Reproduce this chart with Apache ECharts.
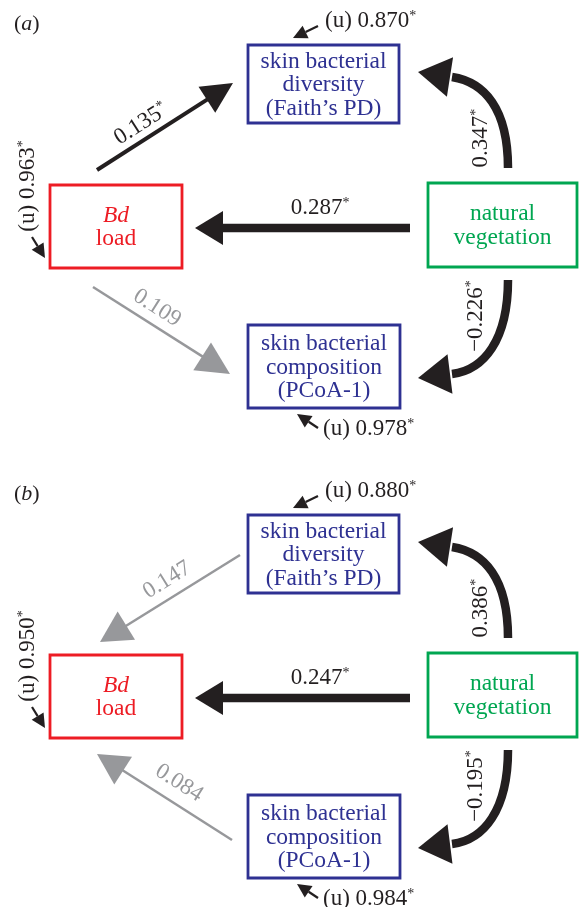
<!DOCTYPE html>
<html>
<head>
<meta charset="utf-8">
<script src="https://cdn.jsdelivr.net/npm/echarts@6/dist/echarts.min.js"></script>
<style>
  html, body { margin: 0; padding: 0; background: #fff; }
  #chart { width: 582px; height: 907px; }
</style>
</head>
<body>
<div id="chart"></div>
<script>
// ---- data ----
const panels = ['a', 'b'];
const nodeKeys = ['bd', 'div', 'comp', 'veg'];
const nodeLines = [
  ['Bd', 'load'],
  ['skin bacterial', 'diversity', '(Faith’s PD)'],
  ['skin bacterial', 'composition', '(PCoA-1)'],
  ['natural', 'vegetation']
];
// path coefficients, panel (a)
const pathsA = ['bd>div', 'veg>bd', 'bd>comp', 'veg>div', 'veg>comp'];
const coefA = [0.135, 0.287, 0.109, 0.347, -0.226];
const sigA = [1, 1, 0, 1, 1];
// path coefficients, panel (b)
const pathsB = ['div>bd', 'veg>bd', 'comp>bd', 'veg>div', 'veg>comp'];
const coefB = [0.147, 0.247, 0.084, 0.386, -0.195];
const sigB = [0, 1, 0, 1, 1];
// unexplained variance (u): bd, div, comp
const residKeys = ['bd', 'div', 'comp'];
const residA = [0.963, 0.870, 0.978];
const residB = [0.950, 0.880, 0.984];

// ---- layout (panel a coordinates, panel b shifted down) ----
const PANEL_DY = 470;
const FONT = '"Liberation Serif", "DejaVu Serif", serif';
const INK = '#231f20';
const GREY = '#97989b';
const boxes = {
  bd:   { x: 50,  y: 185, w: 132, h: 83, color: '#ed1c24' },
  div:  { x: 248, y: 45,  w: 151, h: 78, color: '#2e3192' },
  comp: { x: 248, y: 325, w: 152, h: 83, color: '#2e3192' },
  veg:  { x: 428, y: 183, w: 149, h: 84, color: '#00a651' }
};
const arrows = {
  'bd>div':   { from: [97, 170],  tip: [233, 83],  width: 4,   head: [31, 31], label: [141, 124] },
  'veg>bd':   { from: [410, 228], tip: [195, 228], width: 8.5, head: [28, 34], label: [320, 208] },
  'bd>comp':  { from: [93, 287],  tip: [230, 374], width: 2.5, head: [33, 33], label: [157, 308] },
  'div>bd':   { from: [240, 85],  tip: [100, 172], width: 2.5, head: [31, 33], label: [167, 110] },
  'comp>bd':  { from: [232, 370], tip: [97, 284],  width: 2.5, head: [31, 33], label: [179, 313] },
  'veg>div':  { from: [508, 168], c1: [508, 108], c2: [484, 82],  base: [450, 77],  tip: [418, 72],
                width: 8.5, head: [32, 40], label: [481, 138] },
  'veg>comp': { from: [508, 280], c1: [508, 340], c2: [484, 370], base: [450, 374], tip: [418, 378],
                width: 8.5, head: [32, 40], label: [476, 316] }
};
const residuals = {
  bd:   { tail: [32, 237],  tip: [45, 258],  label: [28, 186],  rotate: 90, align: 'center' },
  div:  { tail: [318, 26],  tip: [293, 38],  label: [325, 21],  rotate: 0,  align: 'left' },
  comp: { tail: [318, 428], tip: [297, 414], label: [323, 429], rotate: 0,  align: 'left' }
};

function fmt(v) {
  return (v < 0 ? '−' : '') + Math.abs(v).toFixed(3);
}

function richNum(color) {
  return {
    v: { fontFamily: FONT, fontSize: 23, fill: color, lineHeight: 24 },
    s: { fontFamily: FONT, fontSize: 14, fill: color, lineHeight: 14, verticalAlign: 'top' }
  };
}

function arrowHead(tip, base, w, color) {
  const dx = tip[0] - base[0], dy = tip[1] - base[1];
  const len = Math.sqrt(dx * dx + dy * dy);
  const nx = -dy / len * w / 2, ny = dx / len * w / 2;
  return {
    type: 'polygon',
    shape: { points: [tip, [base[0] + nx, base[1] + ny], [base[0] - nx, base[1] - ny]] },
    style: { fill: color }
  };
}

// node boxes
function renderNode(params, api) {
  const p = api.value(0), k = api.value(1);
  const b = boxes[nodeKeys[k]];
  const tl = api.coord([b.x, b.y + p * PANEL_DY]);
  const br = api.coord([b.x + b.w, b.y + b.h + p * PANEL_DY]);
  const lines = nodeLines[k].map((t, j) => (k === 0 && j === 0) ? '{i|' + t + '}' : '{t|' + t + '}');
  return {
    type: 'group',
    children: [
      {
        type: 'rect',
        shape: { x: tl[0], y: tl[1], width: br[0] - tl[0], height: br[1] - tl[1] },
        style: { fill: '#fff', stroke: b.color, lineWidth: 2.8 }
      },
      {
        type: 'text',
        x: (tl[0] + br[0]) / 2,
        y: (tl[1] + br[1]) / 2 + 1,
        style: {
          text: lines.join('\n'),
          align: 'center',
          verticalAlign: 'middle',
          rich: {
            t: { fontFamily: FONT, fontSize: 23.5, fill: b.color, lineHeight: 23.5 },
            i: { fontFamily: FONT, fontSize: 23.5, fontStyle: 'italic', fill: b.color, lineHeight: 23.5 }
          }
        }
      }
    ]
  };
}

// structural paths
function renderPath(params, api) {
  const p = api.value(0), i = api.value(1);
  const key = (p ? pathsB : pathsA)[i];
  const coef = (p ? coefB : coefA)[i];
  const sig = (p ? sigB : sigA)[i];
  const g = arrows[key];
  const dy = p * PANEL_DY;
  const pt = (q) => api.coord([q[0], q[1] + dy]);
  const color = sig ? INK : GREY;
  const from = pt(g.from), tip = pt(g.tip);
  const children = [];
  let rot;
  if (g.c1) {
    const base = pt(g.base), c1 = pt(g.c1), c2 = pt(g.c2);
    children.push({
      type: 'bezierCurve',
      shape: { x1: from[0], y1: from[1], cpx1: c1[0], cpy1: c1[1], cpx2: c2[0], cpy2: c2[1], x2: base[0] + 2, y2: base[1] },
      style: { stroke: color, lineWidth: g.width, fill: null }
    });
    children.push(arrowHead(tip, base, g.head[1], color));
    rot = Math.PI / 2;
  } else {
    const dx = tip[0] - from[0], dyy = tip[1] - from[1];
    const len = Math.sqrt(dx * dx + dyy * dyy);
    const base = [tip[0] - dx / len * g.head[0], tip[1] - dyy / len * g.head[0]];
    children.push({
      type: 'line',
      shape: { x1: from[0], y1: from[1], x2: base[0] + dx / len * 3, y2: base[1] + dyy / len * 3 },
      style: { stroke: color, lineWidth: g.width }
    });
    children.push(arrowHead(tip, base, g.head[1], color));
    rot = Math.atan2(-dyy, dx);
    if (rot > Math.PI / 2) rot -= Math.PI;
    if (rot < -Math.PI / 2) rot += Math.PI;
  }
  const lp = pt(g.label);
  children.push({
    type: 'text',
    x: lp[0], y: lp[1], rotation: rot,
    style: {
      text: '{v|' + fmt(coef) + '}' + (sig ? '{s|*}' : ''),
      align: 'center', verticalAlign: 'middle',
      rich: richNum(color)
    }
  });
  return { type: 'group', children: children };
}

// unexplained variance arrows
function renderResid(params, api) {
  const p = api.value(0), k = api.value(1);
  const r = residuals[residKeys[k]];
  const v = (p ? residB : residA)[k];
  const dy = p * PANEL_DY;
  const pt = (q) => api.coord([q[0], q[1] + dy]);
  const tail = pt(r.tail), tip = pt(r.tip);
  const dx = tip[0] - tail[0], dyy = tip[1] - tail[1];
  const len = Math.sqrt(dx * dx + dyy * dyy);
  const base = [tip[0] - dx / len * 14, tip[1] - dyy / len * 14];
  const lp = pt(r.label);
  return {
    type: 'group',
    children: [
      { type: 'line', shape: { x1: tail[0], y1: tail[1], x2: base[0], y2: base[1] }, style: { stroke: INK, lineWidth: 2.2 } },
      arrowHead(tip, base, 14, INK),
      {
        type: 'text',
        x: lp[0], y: lp[1], rotation: r.rotate * Math.PI / 180,
        style: {
          text: '{v|(u) ' + v.toFixed(3) + '}{s|*}',
          align: r.align, verticalAlign: 'middle',
          rich: richNum(INK)
        }
      }
    ]
  };
}

function renderPanel(params, api) {
  const p = api.value(0);
  const c = api.coord([14, 24 + p * PANEL_DY]);
  return {
    type: 'text', x: c[0], y: c[1],
    style: {
      text: '{t|(}{i|' + panels[p] + '}{t|)}',
      align: 'left', verticalAlign: 'middle',
      rich: {
        t: { fontFamily: FONT, fontSize: 22, fill: INK },
        i: { fontFamily: FONT, fontSize: 22, fontStyle: 'italic', fill: INK }
      }
    }
  };
}

const nodeData = [], pathData = [], residData = [];
panels.forEach((_, p) => {
  nodeKeys.forEach((_, k) => nodeData.push([p, k]));
  (p ? pathsB : pathsA).forEach((_, i) => pathData.push([p, i]));
  residKeys.forEach((_, k) => residData.push([p, k]));
});

const chart = echarts.init(document.getElementById('chart'));
chart.setOption({
  animation: false,
  backgroundColor: '#fff',
  grid: { left: 0, right: 0, top: 0, bottom: 0 },
  xAxis: { type: 'value', min: 0, max: 582, show: false },
  yAxis: { type: 'value', min: 0, max: 907, inverse: true, show: false },
  series: [
    { type: 'custom', renderItem: renderPath, data: pathData, silent: true },
    { type: 'custom', renderItem: renderResid, data: residData, silent: true },
    { type: 'custom', renderItem: renderNode, data: nodeData, silent: true },
    { type: 'custom', renderItem: renderPanel, data: panels.map((_, p) => [p, 0]), silent: true }
  ]
});
</script>
</body>
</html>
